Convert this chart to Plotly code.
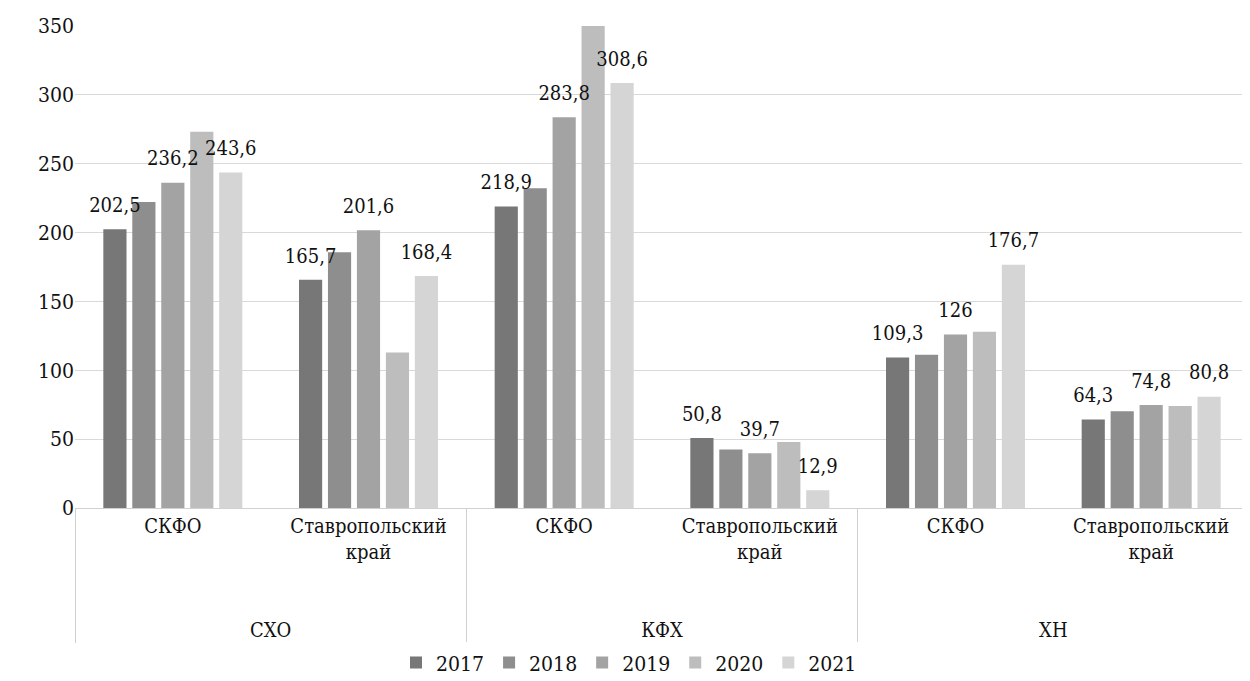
import plotly.graph_objects as go

majors = ["<br><br>СХО", "<br><br>СХО", "<br><br>КФХ", "<br><br>КФХ", "<br><br>ХН", "<br><br>ХН"]
minors = ["СКФО", "Ставропольский<br>край", "СКФО", "Ставропольский<br>край", "СКФО", "Ставропольский<br>край"]
years = ["2017", "2018", "2019", "2020", "2021"]

v2017 = [202.5, 165.7, 218.9, 50.8, 109.3, 64.3]
v2018 = [222.2, 185.7, 232.1, 42.4, 111.3, 70.2]
v2019 = [236.2, 201.6, 283.8, 39.7, 126.0, 74.8]
v2020 = [273.3, 113.0, 365.0, 47.9, 128.0, 74.1]
v2021 = [243.6, 168.4, 308.6, 12.9, 176.7, 80.8]
series = [v2017, v2018, v2019, v2020, v2021]
labelled = {"2017", "2019", "2021"}

colors = ["#777777", "#8e8e8e", "#a3a3a3", "#bdbdbd", "#d5d5d5"]
FONT = "DejaVu Serif Condensed"

def fmt(v):
    s = ("%.1f" % v).rstrip("0").rstrip(".")
    return s.replace(".", ",")

fig = go.Figure()
for yr, vals, col in zip(years, series, colors):
    fig.add_trace(go.Bar(
        name=yr,
        x=[majors, minors],
        y=vals,
        marker=dict(color=col, line=dict(width=0)),
    ))
# value labels, grouped like the bars so each sits above its own bar
for yr, vals in zip(years, series):
    fig.add_trace(go.Scatter(
        x=[majors, minors],
        y=vals,
        mode="markers+text",
        text=[fmt(v) for v in vals] if yr in labelled else [""] * len(vals),
        textposition="top center",
        textfont=dict(family=FONT, size=20, color="#111111"),
        marker=dict(size=18, color="rgba(0,0,0,0)"),
        showlegend=False,
        hoverinfo="skip",
        cliponaxis=False,
    ))

fig.update_layout(
    width=1242, height=673,
    paper_bgcolor="white", plot_bgcolor="white",
    barmode="group", bargap=0.26, bargroupgap=0.2,
    scattermode="group", scattergap=0.26,
    margin=dict(l=67, r=1, t=18, b=173),
    font=dict(family=FONT, size=20, color="#111111"),
    showlegend=True,
    legend=dict(orientation="h", xref="container", x=0.5, xanchor="center",
                yref="container", y=0.027, yanchor="middle",
                font=dict(family=FONT, size=21), itemwidth=30, tracegroupgap=0),
)
fig.update_yaxes(range=[0, 350], dtick=50, showgrid=True, gridcolor="#d9d9d9",
                 gridwidth=1, zeroline=False, showline=False, automargin=False,
                 tickfont=dict(family=FONT, size=21), ticks="", ticklen=0)
fig.update_xaxes(showline=True, linecolor="#d0d0d0", linewidth=1, automargin=False,
                 showdividers=True, dividercolor="#d0d0d0", dividerwidth=1,
                 tickfont=dict(family=FONT, size=20), ticks="")

fig.write_html("out.html")
